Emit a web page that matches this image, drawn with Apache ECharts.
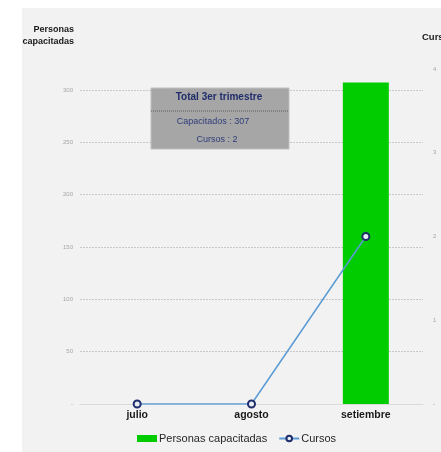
<!DOCTYPE html>
<html>
<head>
<meta charset="utf-8">
<script src="https://cdn.jsdelivr.net/npm/echarts@6/dist/echarts.min.js"></script>
<style>
    body { margin: 0; background: #fff; }
    #wrap { position: relative; width: 441px; height: 452px; overflow: hidden; }
    #chart { position: absolute; left: 22px; top: 8px; width: 419px; height: 444px; background: #f2f2f2; }
</style>
</head>
<body>
<div id="wrap"><div id="chart"></div></div>
<script>
// datos del grafico
var meses = ['julio', 'agosto', 'setiembre'];
var personas = [0, 0, 307];
var cursos = [0, 0, 2];
var ticksPersonas = [0, 50, 100, 150, 200, 250, 300];
var ticksCursos = [0, 1, 2, 3, 4];

var totalPersonas = personas.reduce(function (a, b) { return a + b; }, 0);
var totalCursos = cursos.reduce(function (a, b) { return a + b; }, 0);

var fuente = '"Liberation Sans", Arial, sans-serif';

function guion (v) {
    return v === 0 ? '-' : v;
}

var myChart = echarts.init(document.getElementById('chart'));
var option = {
    backgroundColor: '#f2f2f2',
    textStyle: { fontFamily: fuente },
    grid: {
        left: 58,
        right: 18,
        top: 61,
        bottom: 48
    },
    legend: {
        left: 137 - 22,
        top: 425,
        padding: 0,
        itemWidth: 20,
        itemHeight: 7,
        itemGap: 11,
        textStyle: { fontSize: 11, color: '#262626', fontFamily: fuente, padding: [0, 0, 0, -3] },
        data: [
            { name: 'Personas capacitadas', icon: 'rect', itemStyle: { color: '#00cc00' } },
            { name: 'Cursos' }
        ]
    },
    xAxis: {
        type: 'category',
        data: meses,
        axisLine: { lineStyle: { color: '#d9d9d9' } },
        axisTick: { show: false },
        axisLabel: {
            color: '#1a1a1a',
            fontWeight: 'bold',
            fontSize: 10.5,
            margin: 6
        }
    },
    yAxis: [
        {
            type: 'value',
            min: ticksPersonas[0],
            max: 320,
            interval: 50,
            axisLine: { show: false },
            axisTick: { show: false },
            axisLabel: {
                color: '#a6a6a6',
                fontSize: 6,
                margin: 7,
                showMaxLabel: false,
                formatter: guion
            },
            splitLine: {
                showMaxLine: false,
                lineStyle: { color: '#c8c8c8', type: [2, 1], width: 1 }
            }
        },
        {
            type: 'value',
            min: ticksCursos[0],
            max: ticksCursos[ticksCursos.length - 1],
            interval: 1,
            axisLine: { show: false },
            axisTick: { show: false },
            splitLine: { show: false },
            axisLabel: {
                color: '#a6a6a6',
                fontSize: 6,
                margin: 10,
                formatter: guion
            }
        }
    ],
    graphic: [
        {
            type: 'text',
            x: 74 - 22,
            y: 24 - 8,
            style: {
                text: 'Personas\ncapacitadas',
                align: 'right',
                font: 'bold 9px ' + fuente,
                fill: '#1a1a1a',
                lineHeight: 12
            }
        },
        {
            type: 'text',
            x: 422 - 22,
            y: 32 - 8,
            style: {
                text: 'Cursos',
                font: 'bold 9.5px ' + fuente,
                fill: '#1a1a1a'
            }
        },
        {
            type: 'group',
            x: 151 - 22,
            y: 88 - 8,
            z: 10,
            children: [
                {
                    type: 'rect',
                    z: 10,
                    shape: { x: 0, y: 0, width: 138, height: 61 },
                    style: { fill: '#a6a6a6', stroke: '#bfbfbf', lineWidth: 1 }
                },
                {
                    type: 'line',
                    z: 11,
                    shape: { x1: 0, y1: 23, x2: 138, y2: 23 },
                    style: { stroke: '#5a5a5a', lineWidth: 1, lineDash: [1, 1] }
                },
                {
                    type: 'text',
                    z: 11,
                    x: 68,
                    y: 4,
                    style: {
                        text: 'Total 3er trimestre',
                        align: 'center',
                        font: 'bold 10px ' + fuente,
                        fill: '#1f2d6b'
                    }
                },
                {
                    type: 'text',
                    z: 11,
                    x: 62,
                    y: 29,
                    style: {
                        text: 'Capacitados : ' + totalPersonas,
                        align: 'center',
                        font: '9px ' + fuente,
                        fill: '#2e3d7a'
                    }
                },
                {
                    type: 'text',
                    z: 11,
                    x: 66,
                    y: 47,
                    style: {
                        text: 'Cursos : ' + totalCursos,
                        align: 'center',
                        font: '9px ' + fuente,
                        fill: '#2e3d7a'
                    }
                }
            ]
        }
    ],
    series: [
        {
            name: 'Personas capacitadas',
            type: 'bar',
            barWidth: 46,
            itemStyle: { color: '#00cc00' },
            data: personas
        },
        {
            name: 'Cursos',
            type: 'line',
            yAxisIndex: 1,
            symbol: 'circle',
            symbolSize: 7,
            lineStyle: { color: '#5b9bd5', width: 1.5 },
            itemStyle: { color: '#e8ecf4', borderColor: '#1f2d6b', borderWidth: 2 },
            data: cursos
        }
    ]
};
myChart.setOption(option);
</script>
</body>
</html>
